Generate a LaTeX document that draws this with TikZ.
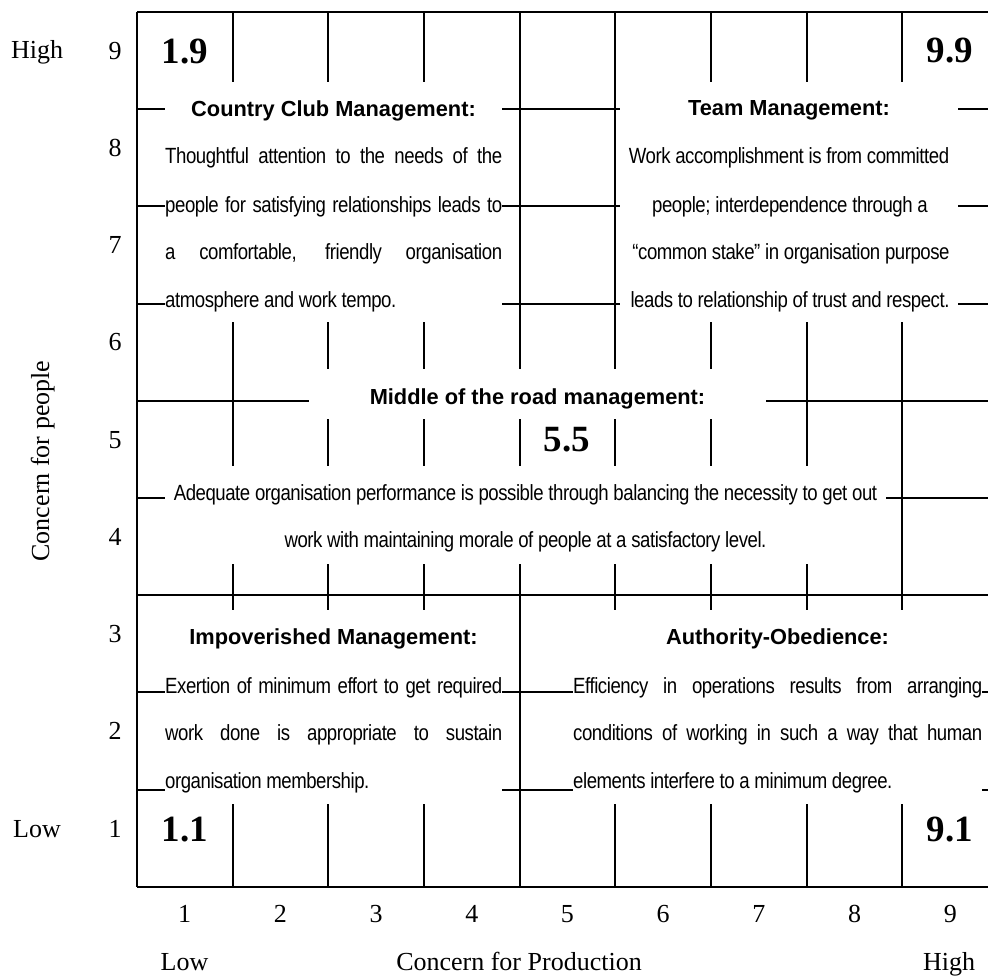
\documentclass[tikz,border=0pt]{standalone}
\usepackage{fontspec}
\setmainfont{Liberation Serif}
\newfontfamily\headfont{Liberation Sans}
\newfontfamily\bodyfont[FakeStretch=0.845,LetterSpace=-2.0]{Liberation Sans}
\begin{document}
\begin{tikzpicture}[x=1pt,y=-1pt,
  gridline/.style={line width=2pt},
  blank/.style={fill=white, draw=none, inner sep=0pt, outer sep=0pt, anchor=north west},
  axis/.style={font=\fontsize{26}{30}\selectfont, inner sep=0pt, anchor=base},
  corner/.style={font=\fontsize{37}{40}\selectfont\bfseries, inner sep=0pt, anchor=base},
  heading/.style={font={\headfont\bfseries\fontsize{21.8}{26}\selectfont}, inner sep=0pt, anchor=base},
  body/.style={font={\bodyfont\fontsize{22}{26}\selectfont}, inner sep=0pt},
]
\useasboundingbox (0,0) rectangle (988,975);
\clip (0,0) rectangle (988,975);

% 9 x 9 grid
\foreach \k in {0,...,9}
  \draw[gridline] ({136.8+95.7*\k},12) -- ({136.8+95.7*\k},886.8);
\foreach \j in {0,...,9}
  \draw[gridline] (136.8,{12+97.2*\j}) -- (1000,{12+97.2*\j});

% white panels that carry the descriptions
\node[blank, minimum width=337pt, minimum height=240pt] (ccbox) at (165,82) {};
\node[blank, minimum width=338pt, minimum height=240pt] (tmbox) at (620,82) {};
\node[blank, minimum width=457pt, minimum height=50pt]  (mhbox) at (309,369) {};
\node[blank, minimum width=721pt, minimum height=98pt]  (mdbox) at (165,466) {};
\node[blank, minimum width=337pt, minimum height=194pt] (imbox) at (165,610) {};
\node[blank, minimum width=409pt, minimum height=194pt] (aobox) at (573,610) {};

% corner and centre scores
\node[corner] (s19) at (185,63) {1.9};
\node[corner] (s99) at (950,62) {9.9};
\node[corner] (s11) at (185,841) {1.1};
\node[corner] (s91) at (950,841) {9.1};
\node[corner] (s55) at (567,451) {5.5};

% Country Club Management
\node[heading] (cch) at (333.5,116) {Country Club Management:};
\node[body, anchor=base west] (cc1) at (165,163) {\makebox[337pt][s]{Thoughtful attention to the needs of the}};
\node[body, anchor=base west] (cc2) at (165,212) {\makebox[337pt][s]{people for satisfying relationships leads to}};
\node[body, anchor=base west] (cc3) at (165,259) {\makebox[337pt][s]{a comfortable, friendly organisation}};
\node[body, anchor=base west] (cc4) at (165,307) {atmosphere and work tempo.};

% Team Management
\node[heading] (tmh) at (789,115) {Team Management:};
\node[body, anchor=base] (tm1) at (789,163) {Work accomplishment is from committed};
\node[body, anchor=base] (tm2) at (790,212) {people; interdependence through a};
\node[body, anchor=base] (tm3) at (791,259) {“common stake” in organisation purpose};
\node[body, anchor=base] (tm4) at (790,307) {leads to relationship of trust and respect.};

% Middle of the road
\node[heading] (mrh) at (537.5,404.5) {Middle of the road management:};
\node[body, anchor=base] (mr1) at (525.5,500) {Adequate organisation performance is possible through balancing the necessity to get out};
\node[body, anchor=base] (mr2) at (525.5,547) {work with maintaining morale of people at a satisfactory level.};

% Impoverished Management
\node[heading] (imh) at (333.5,644) {Impoverished Management:};
\node[body, anchor=base west] (im1) at (165,693) {\makebox[337pt][s]{Exertion of minimum effort to get required}};
\node[body, anchor=base west] (im2) at (165,740) {\makebox[337pt][s]{work done is appropriate to sustain}};
\node[body, anchor=base west] (im3) at (165,788) {organisation membership.};

% Authority-Obedience
\node[heading] (aoh) at (777.5,644) {Authority-Obedience:};
\node[body, anchor=base west] (ao1) at (573,693) {\makebox[409pt][s]{Efficiency in operations results from arranging}};
\node[body, anchor=base west] (ao2) at (573,740) {\makebox[409pt][s]{conditions of working in such a way that human}};
\node[body, anchor=base west] (ao3) at (573,788) {elements interfere to a minimum degree.};

% vertical axis
\foreach \k in {1,...,9}
  \node[axis] (row\k) at (115,{59+97.25*(9-\k)}) {\k};
\node[axis] (yhigh) at (37,58) {High};
\node[axis] (ylow) at (37,837) {Low};
\node[axis, rotate=90] (ytitle) at (49,461) {Concern for people};

% horizontal axis
\foreach \k in {1,...,9}
  \node[axis] (col\k) at ({136.8+95.7*(\k-0.5)},922) {\k};
\node[axis] (xlow) at (184.5,970) {Low};
\node[axis] (xhigh) at (949,970) {High};
\node[axis] (xtitle) at (519,970) {Concern for Production};
\end{tikzpicture}
\end{document}
